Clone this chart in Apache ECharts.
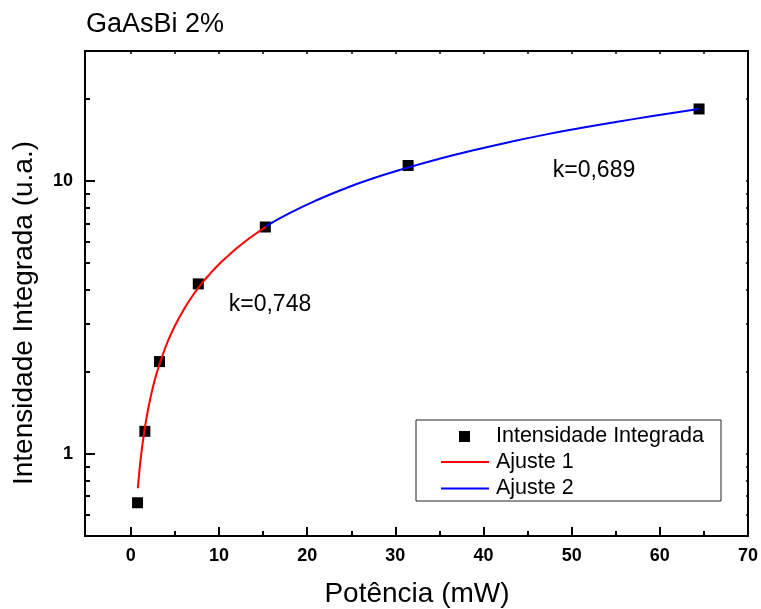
<!DOCTYPE html>
<html><head><meta charset="utf-8">
<script src="https://cdn.jsdelivr.net/npm/echarts@6/dist/echarts.min.js"></script>
<style>html,body{margin:0;padding:0;background:#fff}#c{width:761px;height:609px}</style>
</head><body><div id="c"></div>
<script>
// Data
const potencia = [0.76, 1.59, 3.25, 7.65, 15.25, 31.45, 64.45];
const intensidade = [0.662, 1.21, 2.18, 4.2, 6.79, 11.41, 18.39];
const ajuste1X = [0.8, 1.0, 1.2, 1.45, 1.7, 2.0, 2.5, 3.0, 3.5, 4.2, 5.0, 6.0, 7.0, 8.0, 9.0, 10.0, 11.0, 12.0, 13.0, 14.0, 15.3];
const ajuste1Y = [0.748, 0.885, 1.01, 1.164, 1.31, 1.48, 1.754, 2.01, 2.25, 2.59, 2.95, 3.38, 3.80, 4.20, 4.58, 4.96, 5.31, 5.67, 6.02, 6.36, 6.80];
const ajuste2X = [15.3, 18, 21, 24, 27, 31.5, 35, 39, 43, 47, 51, 55, 59, 64.4];
const ajuste2Y = [6.83, 7.63, 8.49, 9.32, 10.12, 11.23, 12.08, 13.01, 13.92, 14.81, 15.65, 16.47, 17.28, 18.38];
const xMajorTicks = [0, 10, 20, 30, 40, 50, 60, 70];
const xMinorTicks = [5, 15, 25, 35, 45, 55, 65];
const xTopTicks = [0, 5, 10, 15, 20, 25, 30, 35, 40, 45, 50, 55, 60, 65];
const yMajorTicks = [1, 10];
const yMinorTicks = [0.6, 0.7, 0.8, 0.9, 2, 3, 4, 5, 6, 7, 8, 9, 20];
const texts = {
  title: 'GaAsBi 2%',
  xName: 'Potência (mW)',
  yName: 'Intensidade Integrada (u.a.)',
  k1: 'k=0,748',
  k2: 'k=0,689',
  s0: 'Intensidade Integrada',
  s1: 'Ajuste 1',
  s2: 'Ajuste 2'
};

const FF = '"Liberation Sans", Arial, Helvetica, sans-serif';
const X_MIN = -5.2, X_MAX = 70, Y_MIN = 0.5, Y_MAX = 30;
const zip = (a, b) => a.map((v, i) => [v, b[i]]);

const chart = echarts.init(document.getElementById('c'), null, {renderer: 'canvas'});
const axisLine = {show: true, onZero: false, lineStyle: {color: '#000', width: 2}};
const hiddenLine = {show: false, onZero: false};
const noLabel = {show: false};

chart.setOption({
  backgroundColor: '#fff',
  animation: false,
  grid: {left: 85, top: 51, right: 13, bottom: 73, outerBoundsMode: 'none', containLabel: false},
  xAxis: [
    {type: 'value', min: X_MIN, max: X_MAX, position: 'bottom', axisLine,
     axisTick: {show: true, inside: true, length: 9, customValues: xMajorTicks, lineStyle: {color: '#000', width: 2}},
     axisLabel: {customValues: xMajorTicks, color: '#000', fontWeight: 'bold', fontSize: 18, fontFamily: FF, margin: 11},
     splitLine: {show: false}},
    {type: 'value', min: X_MIN, max: X_MAX, position: 'bottom', axisLine: hiddenLine,
     axisTick: {show: true, inside: true, length: 5, customValues: xMinorTicks, lineStyle: {color: '#000', width: 2}},
     axisLabel: noLabel, splitLine: {show: false}},
    {type: 'value', min: X_MIN, max: X_MAX, position: 'top', axisLine,
     axisTick: {show: true, inside: true, length: 3, customValues: xTopTicks, lineStyle: {color: '#000', width: 1.5}},
     axisLabel: noLabel, splitLine: {show: false}}
  ],
  yAxis: [
    {type: 'log', logBase: 10, min: Y_MIN, max: Y_MAX, position: 'left', axisLine,
     axisTick: {show: true, inside: true, length: 10, customValues: yMajorTicks, lineStyle: {color: '#000', width: 2}},
     axisLabel: {customValues: yMajorTicks, color: '#000', fontWeight: 'bold', fontSize: 18, fontFamily: FF, margin: 12},
     splitLine: {show: false}, minorTick: {show: false}},
    {type: 'log', logBase: 10, min: Y_MIN, max: Y_MAX, position: 'left', axisLine: hiddenLine,
     axisTick: {show: true, inside: true, length: 5, customValues: yMinorTicks, lineStyle: {color: '#000', width: 2}},
     axisLabel: noLabel, splitLine: {show: false}},
    {type: 'log', logBase: 10, min: Y_MIN, max: Y_MAX, position: 'right', axisLine,
     axisTick: {show: true, inside: true, length: 2, customValues: yMinorTicks.concat(yMajorTicks), lineStyle: {color: '#000', width: 1.5}},
     axisLabel: noLabel, splitLine: {show: false}}
  ],
  legend: [
    {left: 459, top: 425.5, orient: 'vertical', padding: 0, z: 6,
     itemWidth: 11, itemHeight: 11,
     textStyle: {fontSize: 21.5, fontFamily: FF, color: '#000', padding: [0, 0, 0, 21]},
     data: [{name: texts.s0, icon: 'rect'}]},
    {left: 441, top: 451, orient: 'vertical', padding: 0, z: 6,
     itemGap: 4.5, itemWidth: 48, itemHeight: 2,
     textStyle: {fontSize: 21.5, fontFamily: FF, color: '#000', padding: [0, 0, 0, 2]},
     data: [{name: texts.s1, icon: 'rect'}, {name: texts.s2, icon: 'rect'}]}
  ],
  series: [
    {name: texts.s0, type: 'scatter', symbol: 'rect', symbolSize: 11,
     itemStyle: {color: '#000', opacity: 1}, data: zip(potencia, intensidade), z: 2},
    {name: texts.s1, type: 'line', data: zip(ajuste1X, ajuste1Y), smooth: true,
     showSymbol: false, symbol: 'none', lineStyle: {color: '#ff0000', width: 2}, itemStyle: {color: '#ff0000'}, z: 3},
    {name: texts.s2, type: 'line', data: zip(ajuste2X, ajuste2Y), smooth: true,
     showSymbol: false, symbol: 'none', lineStyle: {color: '#0000ff', width: 2}, itemStyle: {color: '#0000ff'}, z: 3}
  ],
  graphic: [
    {type: 'rect', z: 1, shape: {x: 416, y: 420, width: 305, height: 81}, style: {fill: 'none', stroke: '#222', lineWidth: 1}},
    {type: 'text', x: 86, y: 25, style: {text: texts.title, font: '27px ' + FF, fill: '#000', align: 'left', verticalAlign: 'middle', textAlign: 'left', textVerticalAlign: 'middle'}},
    {type: 'text', x: 417, y: 594, style: {text: texts.xName, font: '28px ' + FF, fill: '#000', align: 'center', verticalAlign: 'middle', textAlign: 'center', textVerticalAlign: 'middle'}},
    {type: 'text', x: 24, y: 313, rotation: Math.PI / 2, style: {text: texts.yName, font: '28px ' + FF, fill: '#000', align: 'center', verticalAlign: 'middle', textAlign: 'center', textVerticalAlign: 'middle'}},
    {type: 'text', x: 270, y: 305, style: {text: texts.k1, font: '23px ' + FF, fill: '#000', align: 'center', verticalAlign: 'middle', textAlign: 'center', textVerticalAlign: 'middle'}},
    {type: 'text', x: 594, y: 171, style: {text: texts.k2, font: '23px ' + FF, fill: '#000', align: 'center', verticalAlign: 'middle', textAlign: 'center', textVerticalAlign: 'middle'}}
  ]
});
</script>
</body></html>
